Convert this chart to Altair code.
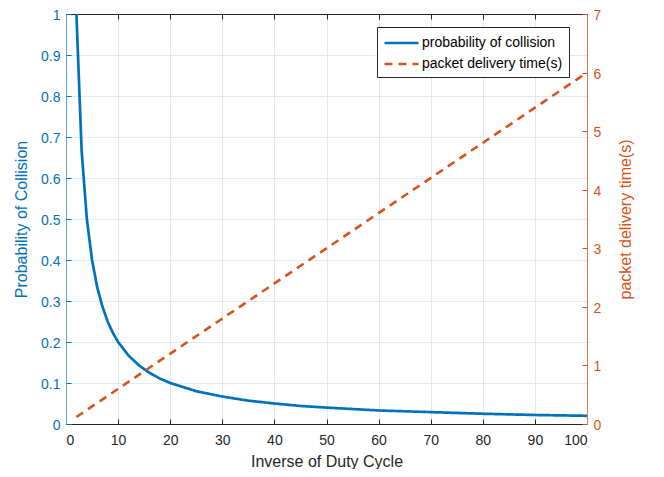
import altair as alt
import pandas as pd

# ---- data ----
x_coll = [2, 3, 4, 5, 6, 7, 8, 9, 10, 12, 14, 16, 18, 20, 25, 30, 35, 40, 45, 50, 60, 70, 80, 90, 100]
p_coll = [1.0, 0.667, 0.5, 0.4, 0.333, 0.286, 0.25, 0.222, 0.2, 0.167, 0.143, 0.125, 0.111, 0.1,
          0.08, 0.067, 0.057, 0.05, 0.044, 0.04, 0.033, 0.029, 0.025, 0.022, 0.02]
x_time = [2, 100]
t_delivery = [0.12, 6.0]

series_names = ["probability of collision", "packet delivery time(s)"]
x_ticks = [0, 10, 20, 30, 40, 50, 60, 70, 80, 90, 100]
yl_ticks = [0, 0.1, 0.2, 0.3, 0.4, 0.5, 0.6, 0.7, 0.8, 0.9, 1]
yr_ticks = [0, 1, 2, 3, 4, 5, 6, 7]

BLUE = "#0072BD"
ORANGE = "#D95319"
DARK = "#262626"
W, H = 521, 410

df_coll = pd.DataFrame({"x": x_coll, "y": p_coll, "series": series_names[0]})
df_time = pd.DataFrame({"x": x_time, "y": t_delivery, "series": series_names[1]})

xscale = alt.Scale(domain=[0, 100], nice=False, zero=False)
ylscale = alt.Scale(domain=[0, 1], nice=False)
yrscale = alt.Scale(domain=[0, 7], nice=False)

legend = alt.Legend(
    orient="none", legendX=311, legendY=13, title="",
    strokeColor=DARK, fillColor="white", padding=6, cornerRadius=0,
    labelFontSize=14, labelColor="#000000", labelOffset=19, rowPadding=4,
    symbolType="M-1,0L3,0", symbolSize=289, symbolStrokeWidth=2.5,
)
color = alt.Color("series:N", scale=alt.Scale(domain=series_names, range=[BLUE, ORANGE]), legend=legend)
dash = alt.StrokeDash("series:N", scale=alt.Scale(domain=series_names, range=[[1, 0], [8, 6]]), legend=legend)

l1 = alt.Chart(df_coll).mark_line(strokeWidth=2.7).encode(
    x=alt.X("x:Q", scale=xscale, axis=alt.Axis(
        orient="bottom", values=x_ticks, title="Inverse of Duty Cycle", grid=True,
        gridColor="#e6e6e6", domainColor=DARK, ticks=False, tickSize=0,
        labelPadding=9, labelColor=DARK, labelFontSize=14,
        titleColor=DARK, titleFontSize=16, titleFontWeight="normal",
        titleX=W / 2, titleY=37, titleBaseline="middle")),
    y=alt.Y("y:Q", scale=ylscale, axis=alt.Axis(
        orient="left", values=yl_ticks, format="~g", title="Probability of Collision",
        grid=True, gridColor="#dfeaf5", domainColor="#5fa3d6", ticks=False, tickSize=0,
        labelPadding=6, labelOffset=1.5, labelColor=BLUE, labelFontSize=14,
        titleColor=BLUE, titleFontSize=16, titleFontWeight="normal",
        titleAngle=270, titleX=-45, titleY=H / 2, titleBaseline="middle", titleAlign="center")),
    color=color, strokeDash=dash,
)

l2 = alt.Chart(df_time).mark_line(strokeWidth=2.6).encode(
    x=alt.X("x:Q", scale=xscale, axis=alt.Axis(
        orient="top", offset=-H, values=x_ticks, labels=False, title="", grid=False,
        domain=False, tickColor=DARK, tickSize=5)),
    y=alt.Y("y:Q", scale=yrscale, axis=alt.Axis(
        orient="right", values=yr_ticks, title="packet delivery time(s)", grid=False,
        domainColor="#e07a4a", ticks=False, tickSize=0,
        labelPadding=6, labelOffset=1.5, labelColor=ORANGE, labelFontSize=14,
        titleColor=ORANGE, titleFontSize=16, titleFontWeight="normal",
        titleAngle=270, titleX=38, titleY=H / 2, titleBaseline="middle", titleAlign="center")),
    color=color, strokeDash=dash,
)

l3 = alt.Chart(df_coll).mark_line(opacity=0).encode(
    x=alt.X("x:Q", scale=xscale, axis=alt.Axis(
        orient="bottom", offset=-H, values=x_ticks, labels=False, title="", grid=False,
        domainColor=DARK, tickColor=DARK, tickSize=5)),
    y=alt.Y("y:Q", scale=ylscale, axis=alt.Axis(
        orient="right", offset=-W, values=yl_ticks, labels=False, title="", grid=False,
        domain=False, tickColor=BLUE, tickSize=5)),
)

l4 = alt.Chart(df_time).mark_line(opacity=0).encode(
    x=alt.X("x:Q", scale=xscale, axis=None),
    y=alt.Y("y:Q", scale=yrscale, axis=alt.Axis(
        orient="left", offset=-W, values=yr_ticks, labels=False, title="", grid=False,
        domain=False, tickColor=ORANGE, tickSize=5)),
)

chart = alt.layer(l1, l2, l3, l4).resolve_scale(
    y="independent"
).resolve_axis(
    x="independent", y="independent"
).properties(
    width=W, height=H,
    autosize=alt.AutoSizeParams(type="none"),
    padding={"left": 58, "top": 6, "right": 69, "bottom": 45},
    background="white",
).configure(
    font="Liberation Sans"
).configure_view(
    stroke=None
)

chart.save("out.html", embed_options={"renderer": "svg", "actions": False})
